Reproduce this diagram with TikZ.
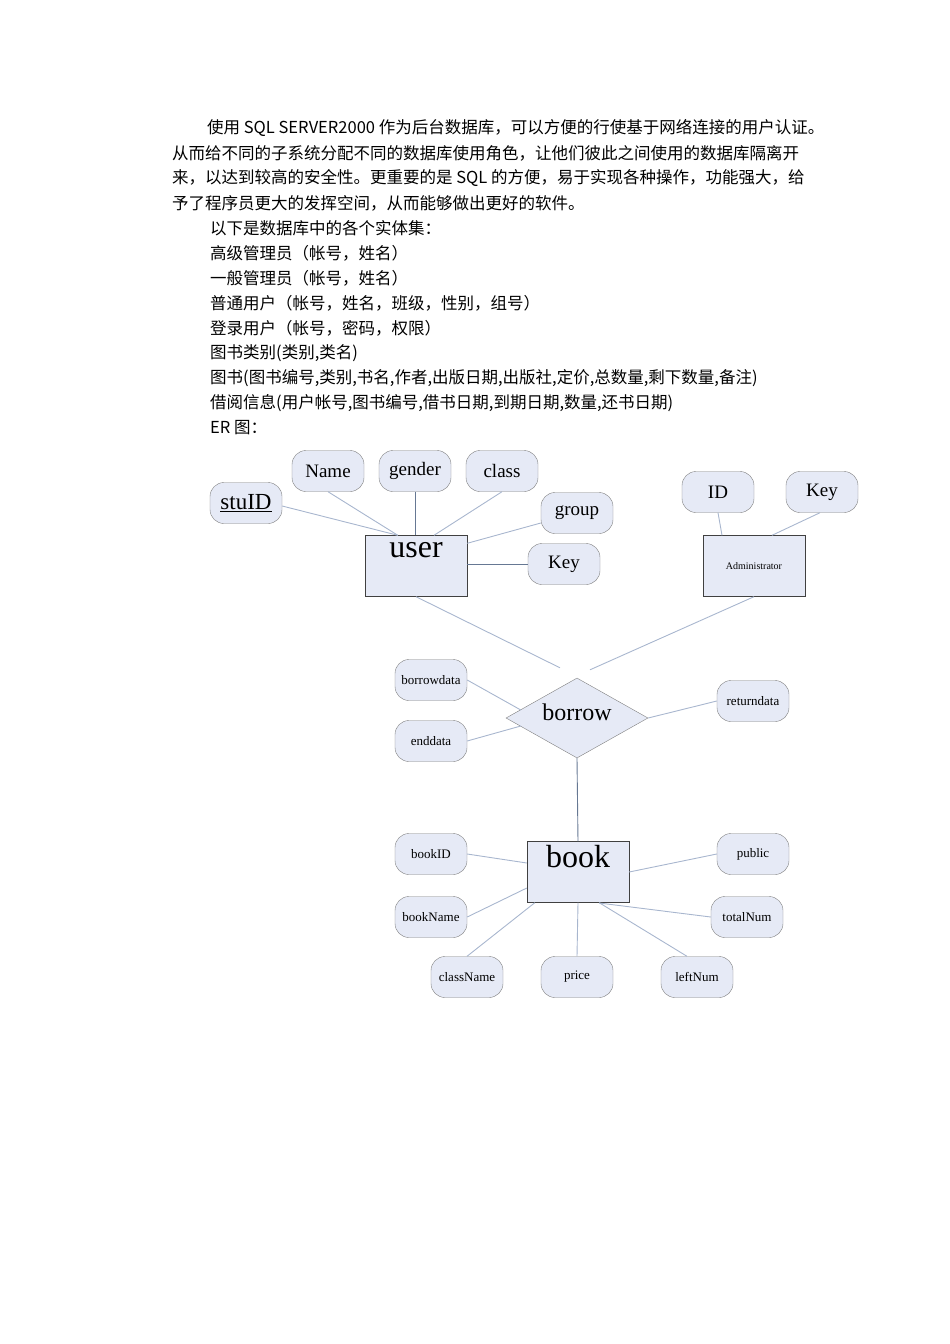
\documentclass[tikz,border=0pt]{standalone}
\usepackage{fontspec}
\setmainfont{Liberation Serif}
\newfontfamily\cjk{Noto Sans CJK SC}
\usetikzlibrary{shapes.geometric,calc}
\definecolor{fillc}{HTML}{E6EAF6}
\definecolor{bordc}{HTML}{7F7F7F}
\definecolor{lnc}{HTML}{A8B6CE}
\definecolor{lnd}{HTML}{667893}
\tikzset{
 attr/.style={draw=bordc,fill=fillc,rounded corners=14pt,minimum width=72pt,minimum height=41pt,inner sep=0pt,font=\fontsize{19}{19}\selectfont},
 sattr/.style={attr,font=\fontsize{13}{13}\selectfont},
 ent/.style={draw=black!75,fill=fillc,minimum width=102pt,minimum height=61pt,inner sep=0pt},
 ln/.style={draw=lnc,line width=0.9pt},
 lnk/.style={draw=lnd,line width=0.9pt},
 txt/.style={anchor=west,inner sep=0pt,font=\cjk\fontsize{16.5}{16.5}\selectfont}
}
\begin{document}
\begin{tikzpicture}[x=1pt,y=-1pt]
\useasboundingbox (0,0) rectangle (950,1344);
% text
\node[txt] (t1) at (207,128) {使用 SQL SERVER2000 作为后台数据库，可以方便的行使基于网络连接的用户认证。};
\node[txt] (t2) at (172,153) {从而给不同的子系统分配不同的数据库使用角色，让他们彼此之间使用的数据库隔离开};
\node[txt] (t3) at (172,178) {来，以达到较高的安全性。更重要的是 SQL 的方便，易于实现各种操作，功能强大，给};
\node[txt] (t4) at (172,203) {予了程序员更大的发挥空间，从而能够做出更好的软件。};
\node[txt] (t5) at (210,228) {以下是数据库中的各个实体集：};
\node[txt] (t6) at (210,253) {高级管理员（帐号，姓名）};
\node[txt] (t7) at (210,278) {一般管理员（帐号，姓名）};
\node[txt] (t8) at (210,303) {普通用户（帐号，姓名，班级，性别，组号）};
\node[txt] (t9) at (210,328) {登录用户（帐号，密码，权限）};
\node[txt] (t10) at (210,353) {图书类别(类别,类名)};
\node[txt] (t11) at (210,378) {图书(图书编号,类别,书名,作者,出版日期,出版社,定价,总数量,剩下数量,备注)};
\node[txt] (t12) at (210,403) {借阅信息(用户帐号,图书编号,借书日期,到期日期,数量,还书日期)};
\node[txt] (t13) at (210,428) {ER 图：};
% entities
\node[ent] (user) at (416,566) {};
\node[font=\fontsize{32}{32}\selectfont] (usert) at (416,550) {user};
\node[ent] (adm) at (754,566) {\fontsize{10}{10}\selectfont Administrator};
\node[ent] (book) at (578,872) {};
\node[font=\fontsize{32}{32}\selectfont] (bookt) at (578,857) {book};
\node[diamond,draw=bordc,fill=fillc,minimum width=142pt,minimum height=80pt,inner sep=0pt,aspect=1.78] (borrow) at (577,718) {};
\node[font=\fontsize{24}{24}\selectfont] (borrowt) at (577,712) {borrow};
% attributes
\node[attr,font=\fontsize{23}{23}\selectfont] (stuID) at (246,503) {\underline{stuID}};
\node[attr] (name) at (328,471) {Name};
\node[attr] (gender) at (415,471) {gender};
\node[attr] (class) at (502,471) {class};
\node[attr] (group) at (577,513) {group};
\node[attr] (key1) at (564,564) {Key};
\node[attr] (id) at (718,492) {ID};
\node[attr] (key2) at (822,492) {Key};
\node[sattr] (bd) at (431,680) {borrowdata};
\node[sattr] (ed) at (431,741) {enddata};
\node[sattr] (rd) at (753,701) {returndata};
\node[sattr] (bid) at (431,854) {bookID};
\node[sattr] (bname) at (431,917) {bookName};
\node[sattr] (cname) at (467,977) {className};
\node[sattr] (price) at (577,977) {price};
\node[sattr] (left) at (697,977) {leftNum};
\node[sattr] (pub) at (753,854) {public};
\node[sattr] (tot) at (747,917) {totalNum};
% connectors
\draw[ln] ($(stuID.east)+(0,3)$) -- ($(user.north west)+(33,0)$);
\draw[ln] (name.south) -- ($(user.north west)+(33,0)$);
\draw[lnk] (gender.south) -- (user.north -| gender.south);
\draw[ln] (class.south) -- ($(user.north)+(18,0)$);
\draw[ln] ($(group.west)+(0,10)$) -- ($(user.north east)+(0,8)$);
\draw[lnk] (key1.west) -- (user.east |- key1.west);
\draw[ln] (id.south) -- ($(adm.north)+(-32,0)$);
\draw[ln] ($(key2.south)+(-2,0)$) -- ($(adm.north)+(18,0)$);
\draw[ln] (user.south) -- ($(borrow.north)+(-17,-10)$);
\draw[ln] (adm.south) -- ($(borrow.north)+(13,-8)$);
\draw[ln] (bd.east) -- ($(borrow.west)+(15,-8)$);
\draw[ln] (ed.east) -- ($(borrow.west)+(15,8)$);
\draw[ln] (rd.west) -- (borrow.east);
\draw[lnk] (borrow.south) -- (book.north);
\draw[ln] (bid.east) -- ($(book.west)+(0,-9)$);
\draw[ln] (bname.east) -- ($(book.west)+(0,16)$);
\draw[ln] (cname.north) -- ($(book.south west)+(8,0)$);
\draw[ln] (price.north) -- (book.south);
\draw[ln] ($(left.north)+(-10,0)$) -- ($(book.south east)+(-30,0)$);
\draw[ln] (pub.west) -- (book.east);
\draw[ln] (tot.west) -- ($(book.east)+(-30,31)$);
\end{tikzpicture}
\end{document}
